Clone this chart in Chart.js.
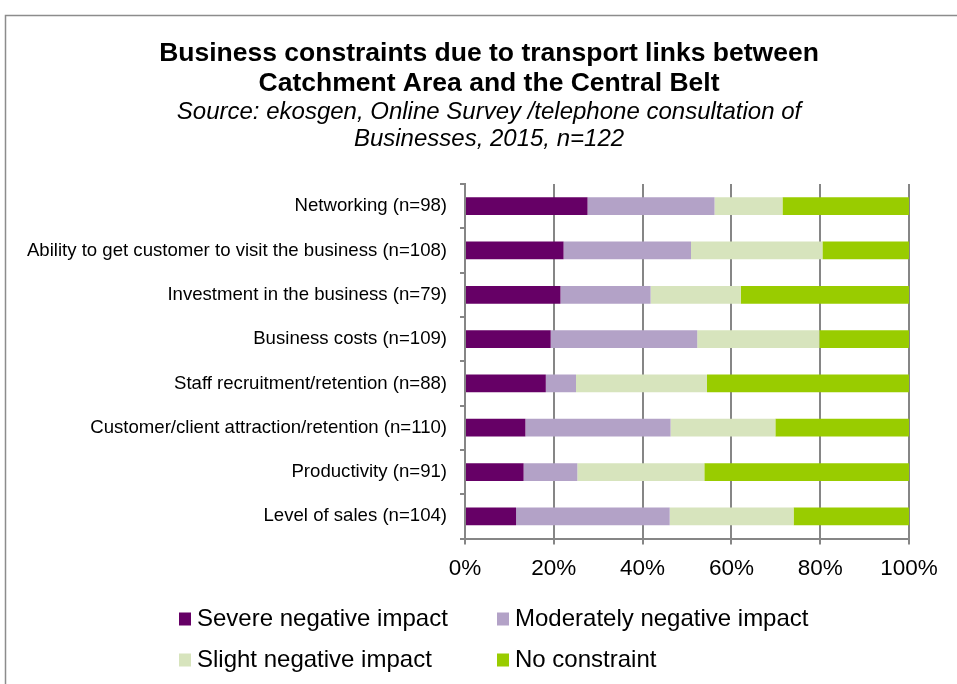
<!DOCTYPE html>
<html>
<head>
<meta charset="utf-8">
<script src="https://cdn.jsdelivr.net/npm/chart.js@4.4.1/dist/chart.umd.min.js"></script>
<style>
  html, body { margin: 0; padding: 0; background: #ffffff; overflow: hidden; }
  #c { display: block; }
</style>
</head>
<body>
<canvas id="c" width="957" height="684"></canvas>
<script>
// ---- Data (percent of respondents) ----
const categories = [
  "Networking (n=98)",
  "Ability to get customer to visit the business (n=108)",
  "Investment in the business (n=79)",
  "Business costs (n=109)",
  "Staff recruitment/retention (n=88)",
  "Customer/client attraction/retention (n=110)",
  "Productivity (n=91)",
  "Level of sales (n=104)"
];
const seriesNames = [
  "Severe negative impact",
  "Moderately negative impact",
  "Slight negative impact",
  "No constraint"
];
const severe     = [27.6, 22.2, 21.5, 19.3, 18.2, 13.6, 13.2, 11.5];
const moderate   = [28.6, 28.7, 20.3, 33.0,  6.8, 32.7, 12.1, 34.6];
const slight     = [15.3, 29.6, 20.3, 27.5, 29.5, 23.6, 28.6, 27.9];
const noConstr   = [28.5, 19.5, 37.9, 20.2, 45.5, 30.1, 46.1, 26.0];
const xTicks     = [0, 20, 40, 60, 80, 100];
const titleLines = [
  "Business constraints due to transport links between",
  "Catchment Area and the Central Belt"
];
const subtitleLines = [
  "Source: ekosgen, Online Survey /telephone consultation of",
  "Businesses, 2015, n=122"
];

const colors = ["#660066", "#B3A2C7", "#D7E4BD", "#99CC00"];
const FONT = "'Liberation Sans', Arial, Helvetica, sans-serif";
const GRID = "#868686";

const decorPlugin = {
  id: 'decor',
  beforeDraw(chart) {
    const ctx = chart.ctx;
    ctx.save();
    ctx.fillStyle = '#ffffff';
    ctx.fillRect(0, 0, chart.width, chart.height);
    // outer frame (top and left edges visible)
    ctx.strokeStyle = '#8c8c8c';
    ctx.lineWidth = 1.5;
    ctx.beginPath();
    ctx.moveTo(5.5, chart.height + 5);
    ctx.lineTo(5.5, 15.5);
    ctx.lineTo(chart.width + 5, 15.5);
    ctx.stroke();
    ctx.restore();
  },
  afterDraw(chart) {
    const ctx = chart.ctx;
    ctx.save();
    const cx = 489;
    ctx.fillStyle = '#000000';
    ctx.textAlign = 'center';
    ctx.textBaseline = 'middle';
    ctx.font = "bold 26.5px " + FONT;
    ctx.fillText(titleLines[0], cx, 54);
    ctx.fillText(titleLines[1], cx, 84);
    ctx.font = "italic 24px " + FONT;
    ctx.fillText(subtitleLines[0], cx, 112);
    ctx.fillText(subtitleLines[1], cx, 139);

    // legend (2 x 2 grid)
    const boxX = [179, 497];
    const rowY = [619, 660];
    ctx.textAlign = 'left';
    ctx.font = "24px " + FONT;
    chart.data.datasets.forEach((ds, i) => {
      const col = i % 2, row = Math.floor(i / 2);
      ctx.fillStyle = ds.backgroundColor;
      ctx.fillRect(boxX[col], rowY[row] - 6.5, 12, 13);
      ctx.fillStyle = '#000000';
      ctx.fillText(ds.label, boxX[col] + 18, rowY[row]);
    });
    ctx.restore();
  }
};

const dataSets = [severe, moderate, slight, noConstr].map((vals, i) => ({
  label: seriesNames[i],
  data: vals,
  backgroundColor: colors[i],
  borderWidth: 0,
  barPercentage: 0.4,
  categoryPercentage: 1.0
}));

new Chart(document.getElementById('c'), {
  type: 'bar',
  data: { labels: categories, datasets: dataSets },
  plugins: [decorPlugin],
  options: {
    indexAxis: 'y',
    responsive: false,
    animation: false,
    devicePixelRatio: 1,
    layout: { padding: { top: 184, right: 48, bottom: 95.5, left: 0 } },
    plugins: {
      legend: { display: false },
      title: { display: false },
      tooltip: { enabled: false }
    },
    scales: {
      x: {
        stacked: true,
        min: 0,
        max: 100,
        afterBuildTicks(scale) { scale.ticks = xTicks.map(v => ({ value: v })); },
        afterFit(scale) { scale.height = 50; },
        ticks: {
          callback: v => v + '%',
          color: '#000000',
          font: { family: FONT, size: 22.5 },
          padding: 11,
          maxRotation: 0
        },
        grid: { color: GRID, lineWidth: 2, tickLength: 6, drawTicks: true },
        border: { color: GRID, width: 2 }
      },
      y: {
        stacked: true,
        afterFit(scale) { scale.width = 465; },
        ticks: {
          color: '#000000',
          font: { family: FONT, size: 18.6 },
          padding: 13,
          autoSkip: false
        },
        grid: { drawOnChartArea: false, drawTicks: true, tickLength: 5, color: GRID, lineWidth: 2, offset: true },
        border: { color: GRID, width: 2 }
      }
    }
  }
});
</script>
</body>
</html>
